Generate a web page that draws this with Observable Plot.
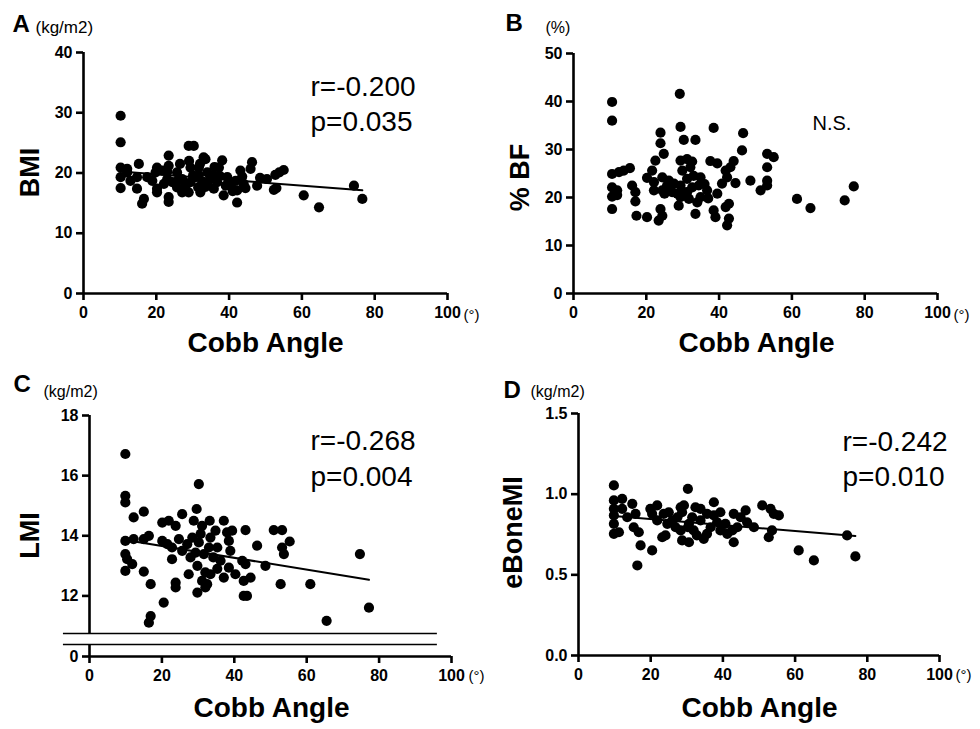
<!DOCTYPE html>
<html>
<head>
<meta charset="utf-8">
<script src="https://cdn.jsdelivr.net/npm/d3@7"></script>
<script src="https://cdn.jsdelivr.net/npm/@observablehq/plot@0.6"></script>
<style>
  body { margin: 0; background: #fff; }
  #fig { position: relative; width: 980px; height: 729px; overflow: hidden; background: #fff; }
  .pnl { position: absolute; overflow: hidden; }
  .pnl svg { max-width: none !important; display: block; }
</style>
</head>
<body>
<div id="fig"></div>
<script>
// ---------------- data ----------------
const cobbTicks = [0, 20, 40, 60, 80, 100];

// Panel A: Cobb angle (deg) vs BMI (kg/m2)
const bmiPoints = [
  [10.2,29.5],[10.2,25.1],[10.2,20.9],[10.2,19.3],[10.2,17.5],[12.0,20.1],[15.2,21.5],[14.7,19.3],[14.7,17.4],[16.6,15.7],
  [16.1,14.9],[20.2,17.4],[20.2,16.8],[19.8,20.1],[21.6,20.4],[23.4,22.9],[23.4,21.2],[23.0,19.0],[23.4,16.0],[23.4,15.2],
  [24.4,18.5],[25.7,17.6],[27.1,19.0],[28.9,24.5],[30.3,24.5],[29.4,20.9],[29.4,18.5],[28.9,16.8],[31.7,20.9],[32.6,18.5],
  [32.1,16.8],[33.5,22.3],[34.9,19.0],[35.8,17.4],[38.1,22.1],[37.2,20.9],[38.5,16.3],[39.5,19.3],[41.8,18.7],[43.1,20.4],
  [42.2,17.1],[42.2,15.1],[44.0,18.2],[46.3,21.8],[45.9,20.7],[47.7,17.9],[50.4,19.0],[52.3,17.2],[52.7,19.7],[55.0,20.5],
  [53.8,20.1],[60.5,16.3],[64.7,14.3],[74.3,17.9],[76.6,15.7],[17.5,19.3],[12.9,18.7],[22.1,18.2],[25.7,20.1],[28.0,17.9],
  [30.8,19.3],[34.0,20.1],[34.0,18.2],[36.7,18.5],[40.4,17.9],[31.7,19.6],[35.8,19.6],[30.1,19.6],[27.1,16.8],[18.9,18.7],
  [39.1,17.9],[33.5,17.7],[43.6,19.4],[23.0,20.2],[20.2,20.9],[33.0,22.6],[12.0,20.7],[26.5,21.5],[29.0,22.0],[36.0,21.0],
  [41.0,17.0],[44.5,17.5],[48.5,19.2],[53.0,17.5],[26.0,18.8],[31.5,17.6],[37.5,19.5],[32.0,21.5]
];

// Panel B: Cobb angle vs % body fat
const bfPoints = [
  [10.6,39.9],[10.6,36.0],[29.2,41.6],[10.6,24.9],[12.5,25.3],[13.8,25.6],[15.5,26.1],[10.6,22.1],[12.0,21.5],[10.6,20.2],
  [10.6,17.6],[16.1,22.5],[17.0,21.1],[17.0,19.2],[17.3,16.2],[20.2,15.9],[23.9,33.5],[23.9,31.3],[24.8,29.1],[22.5,27.7],
  [21.6,25.6],[20.2,24.1],[22.1,23.2],[24.4,24.2],[26.2,23.5],[22.1,21.5],[24.4,21.5],[25.7,22.5],[27.1,21.1],[23.9,17.6],
  [24.4,16.2],[23.4,15.2],[29.4,34.7],[30.3,32.0],[33.5,32.0],[29.4,27.7],[31.2,28.0],[32.1,26.3],[29.9,25.6],[31.2,23.9],
  [29.4,22.5],[28.5,20.8],[29.4,20.1],[31.2,21.1],[32.6,22.1],[34.9,24.2],[34.4,22.5],[36.7,21.5],[28.9,18.3],[31.7,19.7],
  [34.0,19.0],[33.5,16.6],[38.5,34.5],[37.6,27.6],[39.5,27.1],[41.8,25.6],[44.0,27.6],[43.1,26.3],[42.2,24.2],[40.8,22.9],
  [39.5,20.8],[44.5,23.0],[38.5,17.3],[39.0,15.9],[41.8,18.0],[42.7,18.7],[42.7,15.6],[42.2,14.2],[46.6,33.4],[46.3,29.8],
  [48.6,23.5],[51.4,21.5],[53.2,29.1],[55.0,28.4],[53.2,26.3],[53.2,23.5],[53.2,22.5],[61.4,19.7],[65.1,17.8],[74.5,19.4],
  [77.0,22.3],[27.6,22.9],[26.2,22.0],[34.9,20.1],[32.6,27.5],[36.0,22.8],[30.5,21.0],[33.0,24.5],[25.0,20.8],[37.0,19.8],
  [12.0,20.5]
];

// Panel C: Cobb angle vs LMI (kg/m2)
const lmiPoints = [
  [9.9,16.72],[9.9,15.33],[9.9,15.11],[9.9,13.83],[9.9,13.39],[10.4,13.22],[9.9,12.83],[12.2,14.61],[15.0,14.8],[11.8,13.06],
  [12.2,13.89],[15.0,13.89],[16.4,14.0],[15.0,12.81],[16.9,12.39],[20.5,11.78],[16.9,11.33],[16.4,11.11],[20.1,14.44],[21.9,14.5],
  [23.8,14.33],[20.1,13.83],[22.8,13.61],[22.8,13.22],[23.8,12.44],[23.8,12.28],[25.6,14.72],[24.7,13.89],[27.4,12.72],[29.8,12.11],
  [30.2,15.72],[29.6,14.89],[28.8,14.5],[31.1,14.33],[33.2,14.5],[28.4,13.94],[30.2,13.78],[29.3,13.44],[27.9,13.28],[31.6,13.39],
  [33.0,13.61],[29.8,13.0],[32.0,12.78],[31.1,12.5],[32.5,12.39],[32.0,12.28],[34.8,14.17],[35.3,13.61],[37.1,14.5],[38.0,14.11],
  [39.4,14.17],[38.5,13.83],[36.2,13.17],[38.5,12.94],[37.1,12.61],[33.4,12.72],[35.3,12.9],[40.3,12.72],[42.2,13.17],[43.1,13.06],
  [42.6,12.5],[44.5,12.61],[42.6,12.0],[43.5,12.0],[43.1,14.19],[46.3,13.67],[48.6,13.0],[50.9,14.19],[53.2,14.19],[53.2,13.61],
  [53.7,13.39],[55.3,13.81],[52.8,12.39],[61.0,12.39],[65.5,11.17],[74.7,13.39],[77.2,11.61],[27.0,13.72],[25.6,13.5],[21.5,13.72],
  [33.4,13.94],[34.2,13.28],[30.7,14.06],[38.9,13.5]
];

// Panel D: Cobb angle vs eBoneMI (kg/m2)
const boneMiPoints = [
  [9.8,1.054],[9.8,0.961],[12.1,0.971],[9.8,0.909],[9.8,0.868],[9.8,0.816],[9.8,0.754],[11.2,0.764],[12.1,0.909],[14.9,0.940],
  [13.5,0.857],[15.8,0.878],[15.3,0.795],[16.7,0.764],[17.2,0.682],[20.4,0.651],[16.3,0.558],[19.9,0.909],[20.4,0.878],[21.8,0.930],
  [23.6,0.878],[25.0,0.888],[23.2,0.733],[24.1,0.744],[26.0,0.837],[28.3,0.919],[28.7,0.888],[29.2,0.930],[30.3,1.033],[28.3,0.775],
  [28.7,0.713],[30.6,0.702],[30.3,0.795],[31.5,0.857],[31.9,0.775],[33.8,0.909],[33.8,0.837],[34.7,0.723],[35.6,0.754],[37.5,0.950],
  [37.5,0.868],[38.4,0.826],[39.3,0.888],[40.7,0.816],[41.2,0.754],[43.0,0.878],[42.6,0.775],[43.0,0.702],[44.0,0.795],[46.3,0.899],
  [46.7,0.826],[48.6,0.795],[50.9,0.930],[53.2,0.909],[54.1,0.878],[55.5,0.868],[53.6,0.775],[52.7,0.733],[61.0,0.651],[65.2,0.589],
  [74.4,0.744],[76.7,0.614],[24.6,0.816],[26.9,0.795],[32.4,0.919],[35.6,0.878],[30.6,0.816],[27.4,0.857],[21.8,0.837],[39.3,0.775],
  [44.9,0.857],[36.6,0.795],[32.8,0.744]
];

const yTicksA = [0, 10, 20, 30, 40];
const yTicksB = [0, 10, 20, 30, 40, 50];
const yTicksC = [0, 12, 14, 16, 18];
const yTicksD = [0, 0.5, 1.0, 1.5];
const lmiBreak = [1, 10.75];      // broken y axis of panel C (values at the two break marks)
const breakSpan = [-7.2, 96.1];   // horizontal extent of the break marks (Cobb angle units)

// ---------------- drawing ----------------
const FONT = "'Liberation Sans', Arial, Helvetica, sans-serif";

// panel C broken axis: piecewise mapping of LMI into a linear "display" space
const brk = d3.scaleLinear().domain([0, lmiBreak[0], lmiBreak[1], 18]).range([0, 12, 23, 241]);

function panel(c) {
  const {w, h, ml, mr, mt, mb} = c;
  const f = c.yMap || (v => v);
  const T = (s, x, y, o = {}) => Plot.text([s], {
    text: d => d, frameAnchor: "top-left", dx: x - ml, dy: y - mt,
    textAnchor: "start", lineAnchor: "middle", fill: "black", fontFamily: FONT, ...o
  });
  const marks = [];
  marks.push(Plot.ruleY([f(0)], {x1: 0, x2: 100, stroke: "black", strokeWidth: 2.6}));
  for (const [a, b] of c.ySeg) marks.push(Plot.ruleX([0], {y1: f(a), y2: f(b), stroke: "black", strokeWidth: 2.6}));
  if (c.breaks) marks.push(Plot.ruleY(c.breaks.map(f), {x1: breakSpan[0], x2: breakSpan[1], stroke: "black", strokeWidth: 1.4}));
  marks.push(Plot.axisX({ticks: cobbTicks, tickSize: 7, tickPadding: 6, fontSize: 16, fontWeight: "bold", strokeWidth: 2.6, label: null, fontFamily: FONT}));
  const fmt = c.yFmt || (v => String(v));
  const tickVals = c.yTicks.map(f);
  marks.push(Plot.axisY({ticks: tickVals, tickFormat: v => fmt(c.yTicks[tickVals.indexOf(v)]), tickSize: 7, tickPadding: 4, fontSize: 16, fontWeight: "bold", strokeWidth: 2.6, label: null, fontFamily: FONT}));
  marks.push(Plot.dot(c.points, {x: d => d[0], y: d => f(d[1]), r: 5.1, fill: "black", stroke: "none"}));
  if (c.trend) marks.push(Plot.linearRegressionY(c.points, {x: d => d[0], y: d => f(d[1]), ci: 0, stroke: "black", strokeWidth: 2}));
  marks.push(T(c.letter, c.letterPos[0], c.letterPos[1], {fontSize: 24, fontWeight: "bold"}));
  marks.push(T(c.unit, c.unitPos[0], c.unitPos[1], {fontSize: c.unitSize || 17}));
  marks.push(T(c.ylabel, c.ylabelPos[0], c.ylabelPos[1], {fontSize: 27, fontWeight: "bold", rotate: -90, textAnchor: "middle"}));
  marks.push(T("Cobb Angle", c.xlabelPos[0], c.xlabelPos[1], {fontSize: 28, fontWeight: "bold", textAnchor: "middle"}));
  marks.push(T("(°)", c.degPos[0], c.degPos[1], {fontSize: 15}));
  for (const s of c.stats) marks.push(T(s.text, s.x, s.y, {fontSize: s.size}));

  const svg = Plot.plot({
    width: w, height: h, marginLeft: ml, marginRight: mr, marginTop: mt, marginBottom: mb,
    style: {fontFamily: FONT, color: "black", background: "white", maxWidth: "none"},
    x: {domain: [0, 100]},
    y: {domain: [f(c.yDomain[0]), f(c.yDomain[1])]},
    marks
  });
  const div = document.createElement("div");
  div.className = "pnl";
  div.style.left = c.left + "px";
  div.style.top = c.top + "px";
  div.style.width = w + "px";
  div.style.height = h + "px";
  div.appendChild(svg);
  document.getElementById("fig").appendChild(div);
}

panel({
  left: 0, top: 0, w: 490, h: 360, ml: 83, mr: 43, mt: 52, mb: 67,
  points: bmiPoints, yDomain: [0, 40], yTicks: yTicksA, ySeg: [[0, 40]], trend: true,
  letter: "A", letterPos: [12, 24], unit: "(kg/m2)", unitPos: [35, 27],
  ylabel: "BMI", ylabelPos: [30, 172], xlabelPos: [265, 343], degPos: [463, 315],
  stats: [{text: "r=-0.200", x: 310, y: 87, size: 28}, {text: "p=0.035", x: 310, y: 122, size: 28}]
});

panel({
  left: 490, top: 0, w: 490, h: 360, ml: 83, mr: 43, mt: 53, mb: 67,
  points: bfPoints, yDomain: [0, 50], yTicks: yTicksB, ySeg: [[0, 50]], trend: false,
  letter: "B", letterPos: [15, 23], unit: "(%)", unitPos: [55, 27], unitSize: 16,
  ylabel: "% BF", ylabelPos: [30, 177], xlabelPos: [266, 343], degPos: [463, 315],
  stats: [{text: "N.S.", x: 322, y: 123, size: 20}]
});

panel({
  left: 0, top: 360, w: 490, h: 369, ml: 89, mr: 39, mt: 55, mb: 73,
  points: lmiPoints, yDomain: [0, 18], yMap: brk,
  yTicks: yTicksC, ySeg: [[0, lmiBreak[0]], [lmiBreak[1], 18]], breaks: lmiBreak, trend: true,
  letter: "C", letterPos: [13, 24], unit: "(kg/m2)", unitPos: [43, 31], unitSize: 16,
  ylabel: "LMI", ylabelPos: [30, 175], xlabelPos: [271, 348], degPos: [468, 316],
  stats: [{text: "r=-0.268", x: 310, y: 81, size: 28}, {text: "p=0.004", x: 310, y: 117, size: 28}]
});

panel({
  left: 490, top: 360, w: 490, h: 369, ml: 88, mr: 41, mt: 53, mb: 74,
  points: boneMiPoints, yDomain: [0, 1.5], yTicks: yTicksD, yFmt: d => d.toFixed(1), ySeg: [[0, 1.5]], trend: true,
  letter: "D", letterPos: [13, 30], unit: "(kg/m2)", unitPos: [40, 31], unitSize: 16,
  ylabel: "eBoneMI", ylabelPos: [23, 172], xlabelPos: [269, 348], degPos: [465, 315],
  stats: [{text: "r=-0.242", x: 352, y: 82, size: 28}, {text: "p=0.010", x: 352, y: 117, size: 28}]
});
</script>
</body>
</html>
